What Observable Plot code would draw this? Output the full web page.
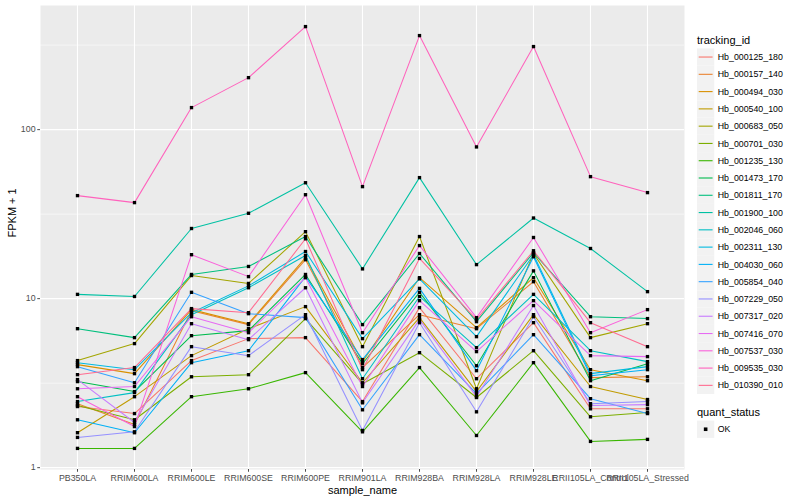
<!DOCTYPE html>
<html>
<head>
<meta charset="utf-8">
<script src="https://cdn.jsdelivr.net/npm/d3@7"></script>
<script src="https://cdn.jsdelivr.net/npm/@observablehq/plot@0.6"></script>
<style>
  html, body { margin: 0; padding: 0; background: #ffffff; }
  #wrap { position: relative; width: 800px; height: 500px; font-family: "Liberation Sans", Arial, sans-serif; }
  #chart { position: absolute; left: 0; top: 0; }
  #legend { position: absolute; left: 690px; top: 0; }
</style>
</head>
<body>
<div id="wrap"><div id="chart"></div><svg id="legend" width="110" height="500"></svg></div>
<script>
const samples = ["PB350LA","RRIM600LA","RRIM600LE","RRIM600SE","RRIM600PE","RRIM901LA","RRIM928BA","RRIM928LA","RRIM928LE","RRII105LA_Control","RRII105LA_Stressed"];

const trackingIds = ["Hb_000125_180","Hb_000157_140","Hb_000494_030","Hb_000540_100","Hb_000683_050","Hb_000701_030","Hb_001235_130","Hb_001473_170","Hb_001811_170","Hb_001900_100","Hb_002046_060","Hb_002311_130","Hb_004030_060","Hb_005854_040","Hb_007229_050","Hb_007317_020","Hb_007416_070","Hb_007537_030","Hb_009535_030","Hb_010390_010"];

const palette = ["#F8766D","#EA8331","#D89000","#C09B00","#A3A500","#7CAE00","#39B600","#00BB4E","#00BF7D","#00C1A3","#00BFC4","#00BAE0","#00B0F6","#35A2FF","#9590FF","#C77CFF","#E76BF3","#FA62DB","#FF62BC","#FF6C91"];

// FPKM + 1 per sample (order of `samples`)
const Hb_000125_180 = [2.3, 2.09, 4.3, 5.8, 5.88, 2.46, 8.85, 3.36, 7.21, 2.23, 2.23];
const Hb_000157_140 = [2.39, 1.8, 8.49, 7.02, 17, 3.91, 8.04, 6.64, 12.6, 3.41, 3.45];
const Hb_000494_030 = [4.07, 3.6, 8.61, 7.11, 17.5, 4.24, 13.3, 6.74, 13.3, 3.8, 3.27];
const Hb_000540_100 = [1.61, 2.63, 4.6, 6.64, 8.97, 3.18, 7.72, 2.82, 8.04, 3.02, 2.53];
const Hb_000683_050 = [4.3, 5.42, 13.7, 12.3, 24.9, 5.2, 23.3, 2.93, 18.5, 5.88, 7.11];
const Hb_000701_030 = [2.33, 1.92, 3.45, 3.55, 7.62, 3.14, 4.79, 2.6, 4.92, 2.0, 2.12];
const Hb_001235_130 = [1.3, 1.3, 2.63, 2.93, 3.65, 1.63, 3.91, 1.55, 4.18, 1.43, 1.47];
const Hb_001473_170 = [3.23, 2.82, 6.04, 6.47, 13.9, 4.12, 10.9, 4.01, 14.6, 3.27, 4.12];
const Hb_001811_170 = [6.64, 5.88, 13.9, 15.5, 23.3, 7.02, 18.5, 7.31, 18.7, 7.82, 7.62];
const Hb_001900_100 = [10.6, 10.3, 26, 32, 48.5, 15, 52, 15.9, 30, 19.8, 11];
const Hb_002046_060 = [2.46, 2.78, 8.04, 11.6, 18, 3.36, 10.3, 5.13, 10.6, 4.92, 4.24];
const Hb_002311_130 = [4.18, 3.8, 8.26, 11.9, 19, 5.8, 13.1, 5.96, 18.2, 3.6, 3.96];
const Hb_004030_060 = [1.92, 1.61, 4.18, 4.92, 13.5, 4.36, 11.5, 3.75, 17.7, 3.5, 3.8];
const Hb_005854_040 = [3.96, 3.18, 10.9, 8.15, 7.72, 2.2, 6.12, 2.74, 6.12, 2.56, 2.09];
const Hb_007229_050 = [1.51, 1.63, 5.2, 4.6, 8.04, 1.66, 7.21, 2.14, 7.82, 2.39, 2.46];
const Hb_007317_020 = [3.32, 1.85, 7.11, 5.72, 11.6, 2.42, 7.51, 2.63, 9.1, 2.33, 2.36];
const Hb_007416_070 = [2.93, 3.02, 7.82, 6.29, 13.3, 3.02, 9.73, 4.86, 9.73, 4.6, 4.54];
const Hb_007537_030 = [2.63, 1.75, 18.2, 13.5, 41.2, 6.29, 20.6, 7.72, 23, 6.29, 8.61];
const Hb_009535_030 = [40.7, 37, 135, 203, 407, 46, 360, 79, 310, 52.7, 42.4];
const Hb_010390_010 = [3.55, 3.91, 8.73, 8.26, 22.6, 3.8, 17.3, 7.51, 19.2, 7.21, 5.2];

const yTicks = [1, 10, 100];
const yMinor = [Math.sqrt(10), Math.sqrt(1000), Math.sqrt(100000)];

const seriesValues = [Hb_000125_180, Hb_000157_140, Hb_000494_030, Hb_000540_100, Hb_000683_050, Hb_000701_030, Hb_001235_130, Hb_001473_170, Hb_001811_170, Hb_001900_100, Hb_002046_060, Hb_002311_130, Hb_004030_060, Hb_005854_040, Hb_007229_050, Hb_007317_020, Hb_007416_070, Hb_007537_030, Hb_009535_030, Hb_010390_010];

const rows = [];
trackingIds.forEach((id, k) => {
  seriesValues[k].forEach((v, i) => rows.push({id, sample: samples[i], value: v}));
});

// ggplot-like 5% expansion in log space
const lmin = Math.log10(d3.min(rows, d => d.value));
const lmax = Math.log10(d3.max(rows, d => d.value));
const ext = (lmax - lmin) * 0.05;
const yDomain = [Math.pow(10, lmin - ext), Math.pow(10, lmax + ext)];

const plot = Plot.plot({
  width: 690,
  height: 500,
  marginLeft: 40,
  marginRight: 6,
  marginTop: 5,
  marginBottom: 31,
  style: {fontFamily: "Liberation Sans, Arial, sans-serif", fontSize: "8.8px", background: "transparent"},
  x: {type: "point", domain: samples, padding: 0.6},
  y: {type: "log", domain: yDomain},
  color: {domain: trackingIds, range: palette},
  marks: [
    Plot.frame({fill: "#EBEBEB", stroke: null}),
    Plot.ruleY(yMinor, {stroke: "white", strokeWidth: 0.55}),
    Plot.ruleY(yTicks, {stroke: "white", strokeWidth: 1.1}),
    Plot.ruleX(samples, {stroke: "white", strokeWidth: 1.1}),
    Plot.line(rows, {x: "sample", y: "value", z: "id", stroke: "id", strokeWidth: 1.05}),
    Plot.dot(rows, {x: "sample", y: "value", symbol: "square", r: 1.9, fill: "black", stroke: null}),
    Plot.axisX({tickSize: 2.75, tickPadding: 2.2, label: null, color: "#4D4D4D", fontSize: 8.8}),
    Plot.axisY({ticks: yTicks, tickFormat: d => String(d), tickSize: 2.75, tickPadding: 2.2, label: null, color: "#4D4D4D", fontSize: 8.8}),
    Plot.text(["sample_name"], {frameAnchor: "bottom", dy: 24, text: d => d, fontSize: 11, fill: "black"}),
    Plot.text(["FPKM + 1"], {frameAnchor: "left", dx: -28, rotate: -90, text: d => d, fontSize: 11, fill: "black"})
  ]
});
document.getElementById("chart").appendChild(plot);

// Legend (ggplot style)
const lg = d3.select("#legend").style("font-family", "Liberation Sans, Arial, sans-serif");
const keyH = 17.28, keyX = 7, top0 = 48.4;
lg.append("text").attr("x", keyX).attr("y", 44).attr("font-size", 11).text("tracking_id");
trackingIds.forEach((id, i) => {
  const y = top0 + i * keyH;
  lg.append("rect").attr("x", keyX).attr("y", y).attr("width", keyH).attr("height", keyH).attr("fill", "#F2F2F2");
  lg.append("line").attr("x1", keyX + 1.7).attr("x2", keyX + keyH - 1.7).attr("y1", y + keyH / 2).attr("y2", y + keyH / 2)
    .attr("stroke", palette[i]).attr("stroke-width", 1.1);
  lg.append("text").attr("x", keyX + keyH + 3.5).attr("y", y + keyH / 2 + 3.1).attr("font-size", 8.8).text(id);
});
lg.append("text").attr("x", keyX).attr("y", 416).attr("font-size", 11).text("quant_status");
lg.append("rect").attr("x", keyX).attr("y", 420.6).attr("width", keyH).attr("height", keyH).attr("fill", "#F2F2F2");
lg.append("rect").attr("x", keyX + keyH / 2 - 1.8).attr("y", 420.6 + keyH / 2 - 1.8).attr("width", 3.6).attr("height", 3.6).attr("fill", "black");
lg.append("text").attr("x", keyX + keyH + 3.5).attr("y", 420.6 + keyH / 2 + 3.1).attr("font-size", 8.8).text("OK");
</script>
</body>
</html>
